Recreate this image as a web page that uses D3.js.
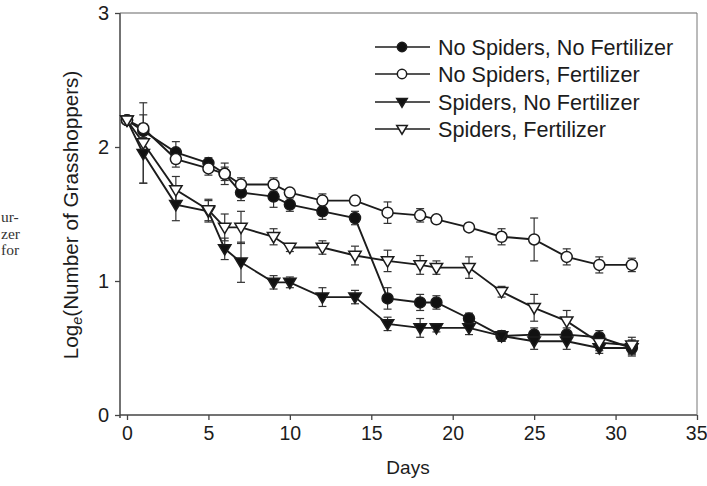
<!DOCTYPE html>
<html><head><meta charset="utf-8">
<script src="https://cdnjs.cloudflare.com/ajax/libs/d3/7.8.5/d3.min.js"></script>
<style>body{margin:0;background:#fff;} svg{display:block;}</style>
</head><body>
<svg id="c" width="707" height="486"></svg>
<script>
const days = [0,1,3,5,6,7,9,10,12,14,16,18,19,21,23,25,27,29,31];
const seriesNames = ["No Spiders, No Fertilizer","No Spiders, Fertilizer","Spiders, No Fertilizer","Spiders, Fertilizer"];
const nsnfVals = [2.20,2.12,1.96,1.88,1.80,1.66,1.63,1.57,1.52,1.47,0.87,0.84,0.84,0.72,0.59,0.60,0.60,0.58,0.50];
const nsnfErr  = [0,0.05,0.08,0.04,0.05,0.06,0.08,0.05,0.06,0.05,0.08,0.06,0.05,0.04,0.04,0.05,0.05,0.05,0.06];
const nsfVals  = [2.20,2.14,1.91,1.84,1.80,1.72,1.72,1.66,1.60,1.60,1.51,1.49,1.46,1.40,1.33,1.31,1.18,1.12,1.12];
const nsfErr   = [0,0.10,0.06,0.05,0.08,0.05,0.05,0.03,0.05,0.03,0.08,0.05,0.03,0.03,0.06,0.16,0.06,0.06,0.05];
const snfVals  = [2.20,1.95,1.57,1.52,1.24,1.14,0.99,0.99,0.88,0.88,0.68,0.65,0.65,0.65,0.59,0.55,0.55,0.50,0.50];
const snfErr   = [0,0.22,0.12,0.08,0.08,0.15,0.05,0.04,0.07,0.05,0.05,0.07,0.03,0.05,0.04,0.06,0.06,0.04,0.05];
const sfVals   = [2.20,2.03,1.68,1.53,1.40,1.40,1.33,1.25,1.25,1.19,1.15,1.12,1.10,1.10,0.92,0.80,0.70,0.54,0.52];
const sfErr    = [0,0.30,0.10,0.08,0.10,0.12,0.06,0.03,0.05,0.07,0.08,0.07,0.05,0.08,0.04,0.10,0.08,0.06,0.06];
const xTicks = [0,5,10,15,20,25,30,35];
const yTicks = [0,1,2,3];

const series = [
  {name: seriesNames[0], vals: nsnfVals, err: nsnfErr, shape: "circle", fill: "#111"},
  {name: seriesNames[1], vals: nsfVals, err: nsfErr, shape: "circle", fill: "#fff"},
  {name: seriesNames[2], vals: snfVals, err: snfErr, shape: "tri", fill: "#111"},
  {name: seriesNames[3], vals: sfVals, err: sfErr, shape: "tri", fill: "#fff"}
];

const svg = d3.select("#c");
const ink = "#1c1c1c";
const font = "'Liberation Sans', Arial, sans-serif";
const x = d3.scaleLinear().domain([0,35]).range([127,697]);
const y = d3.scaleLinear().domain([0,3]).range([415,13]);

// caption fragments at left edge
const frag = svg.append("g").attr("font-family","'Liberation Serif', 'Times New Roman', serif")
  .attr("font-size",15.5).attr("fill","#333");
[["ur-",222],["zer",239],["for",255]].forEach(([t,yy]) => frag.append("text").attr("x",1).attr("y",yy).text(t));

// frame
svg.append("line").attr("x1",x(0)-7).attr("x2",x(35)).attr("y1",y(0)).attr("y2",y(0)).attr("stroke","#444").attr("stroke-width",1.5);
svg.append("line").attr("x1",120).attr("x2",120).attr("y1",y(3)).attr("y2",y(0)+3).attr("stroke","#444").attr("stroke-width",1.5);
svg.append("line").attr("x1",120).attr("x2",x(35)).attr("y1",y(3)).attr("y2",y(3)).attr("stroke","#666").attr("stroke-width",1.2);
svg.append("line").attr("x1",x(35)).attr("x2",x(35)).attr("y1",y(3)).attr("y2",y(0)).attr("stroke","#777").attr("stroke-width",1);

// axes
const xAxis = d3.axisBottom(x).tickValues(xTicks).tickSize(5).tickPadding(6).tickFormat(d3.format("d"));
const gx = svg.append("g").attr("transform",`translate(0,${y(0)})`).call(xAxis);
gx.select(".domain").remove();
gx.selectAll("line").attr("stroke","#444").attr("stroke-width",1.3);
gx.selectAll("text").attr("font-family",font).attr("font-size",19.5).attr("fill",ink);
gx.selectAll("text").filter(d => d === 35).attr("text-anchor","end").attr("dx",10);

const yAxis = d3.axisLeft(y).tickValues(yTicks).tickSize(5).tickPadding(6).tickFormat(d3.format("d"));
const gy = svg.append("g").attr("transform",`translate(120,0)`).call(yAxis);
gy.select(".domain").remove();
gy.selectAll("line").attr("stroke","#444").attr("stroke-width",1.3);
gy.selectAll("text").attr("font-family",font).attr("font-size",20).attr("fill",ink);

svg.append("text").attr("x",408).attr("y",474).attr("text-anchor","middle")
  .attr("font-family",font).attr("font-size",19).attr("fill",ink).text("Days");

const yl = svg.append("text").attr("transform","translate(78,215) rotate(-90)").attr("text-anchor","middle")
  .attr("font-family",font).attr("font-size",20.7).attr("fill",ink);
yl.append("tspan").text("Log");
yl.append("tspan").attr("font-size",14.5).attr("font-style","italic").attr("dy",4).text("e");
yl.append("tspan").attr("dy",-4).text("(Number of Grasshoppers)");

// lines
const line = d3.line().x((d,i)=>x(days[i])).y(d=>y(d));
series.forEach(s => {
  svg.append("path").attr("d", line(s.vals)).attr("fill","none").attr("stroke",ink).attr("stroke-width",1.9);
});

// error bars
series.forEach(s => {
  const g = svg.append("g").attr("stroke","#333").attr("stroke-width",1.2);
  s.vals.forEach((v,i) => {
    const e = s.err[i]; if (!e) return;
    const cx = x(days[i]);
    g.append("line").attr("x1",cx).attr("x2",cx).attr("y1",y(v+e)).attr("y2",y(v-e));
    g.append("line").attr("x1",cx-4).attr("x2",cx+4).attr("y1",y(v+e)).attr("y2",y(v+e));
    g.append("line").attr("x1",cx-4).attr("x2",cx+4).attr("y1",y(v-e)).attr("y2",y(v-e));
  });
});

function marker(g, shape, fill, cx, cy, scale=1) {
  if (shape === "circle") {
    g.append("circle").attr("cx",cx).attr("cy",cy).attr("r",5.5*scale).attr("fill",fill).attr("stroke",ink).attr("stroke-width",1.5);
  } else {
    const w = 6.2*scale, h = 5.6*scale;
    g.append("path").attr("d",`M${cx-w},${cy-h*0.75}L${cx+w},${cy-h*0.75}L${cx},${cy+h*1.1}Z`)
      .attr("fill",fill).attr("stroke",ink).attr("stroke-width",1.5).attr("stroke-linejoin","miter");
  }
}
// markers
series.forEach(s => {
  const g = svg.append("g");
  s.vals.forEach((v,i) => marker(g, s.shape, s.fill, x(days[i]), y(v)));
});

// legend
const lg = svg.append("g");
const legY = [47,74,102,129];
series.forEach((s,i) => {
  const yy = legY[i];
  lg.append("line").attr("x1",375).attr("x2",430).attr("y1",yy).attr("y2",yy).attr("stroke",ink).attr("stroke-width",1.5);
  marker(lg, s.shape, s.fill, 402, yy, 0.85);
  lg.append("text").attr("x",438).attr("y",yy+7.5).attr("font-family",font).attr("font-size",21.6).attr("fill",ink).text(s.name);
});
</script>
</body></html>
